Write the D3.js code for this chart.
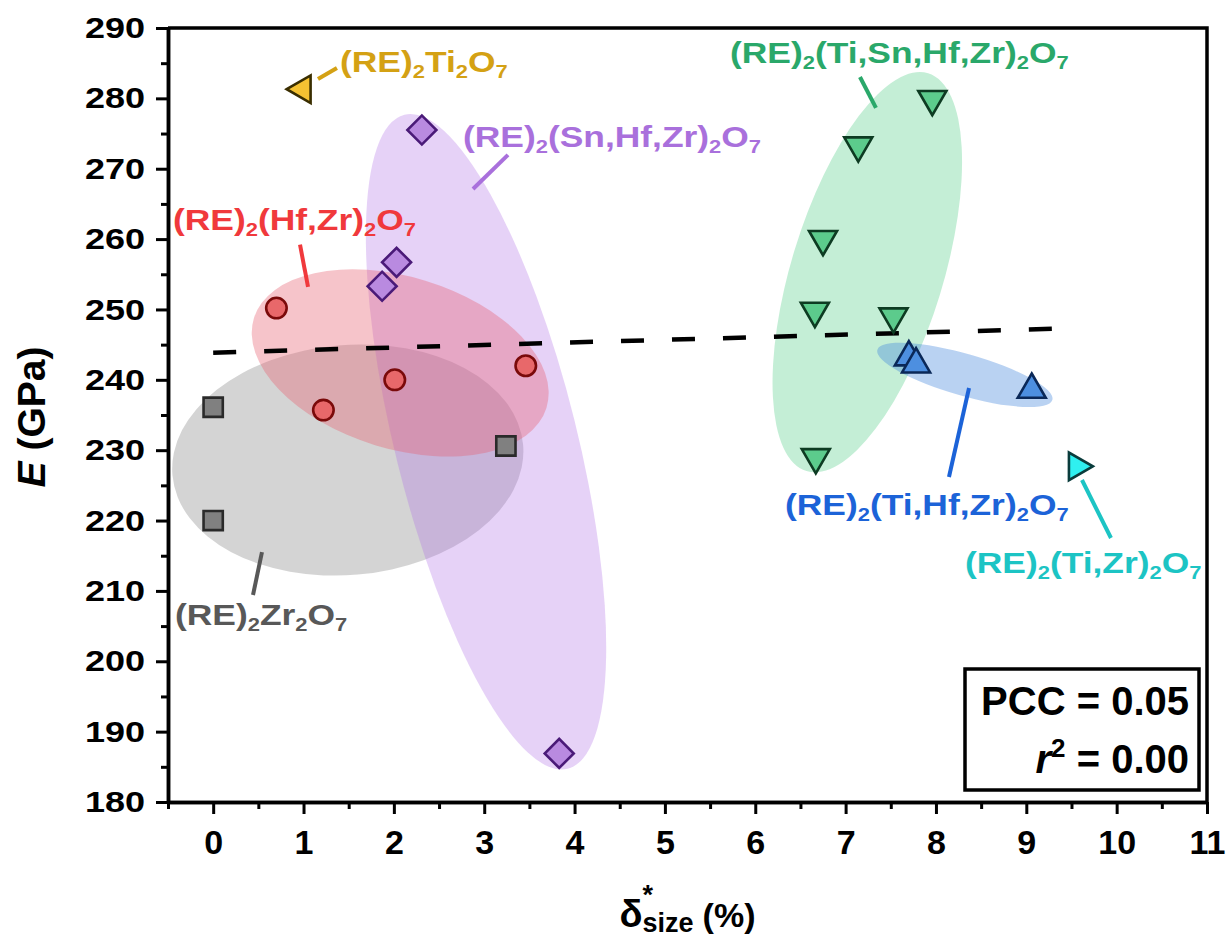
<!DOCTYPE html>
<html>
<head>
<meta charset="utf-8">
<script src="https://cdn.jsdelivr.net/npm/d3@7/dist/d3.min.js"></script>
<style>
  body { margin: 0; background: #fff; }
  text { font-family: "Liberation Sans", Arial, sans-serif; font-weight: bold; }
</style>
</head>
<body>
<div id="container"></div>
<script>
// define constants
const WIDTH = 1231;
const HEIGHT = 940;
const MARGIN = { left: 168, right: 24, top: 28, bottom: 138 };

// data
const zrX = [0, 0, 3.24];
const zrY = [236.1, 220.0, 230.6];
const hfzrX = [0.70, 1.22, 2.01, 3.46];
const hfzrY = [250.2, 235.7, 240.0, 242.0];
const snhfzrX = [1.87, 2.03, 2.31, 3.83];
const snhfzrY = [253.3, 256.7, 275.5, 186.9];
const tiX = [0.99];
const tiY = [281.3];
const tisnhfzrX = [6.66, 6.67, 6.75, 7.14, 7.53, 7.96];
const tisnhfzrY = [249.8, 229.0, 260.0, 273.3, 249.0, 279.9];
const tihfzrX = [7.70, 7.78, 9.06];
const tihfzrY = [243.2, 242.2, 238.6];
const tizrX = [9.56];
const tizrY = [227.7];

// dashed linear fit
const fitX = [0, 9.56];
const fitY = [243.86, 247.35];

const xTicks = d3.range(0, 12, 1);
const xMinor = d3.range(-0.5, 11, 1);
const yTicks = d3.range(180, 291, 10);
const yMinor = d3.range(185, 290, 10);

const pcc = "0.05";
const r2 = "0.00";

// marker groups
const groups = [
    { xs: zrX, ys: zrY, shape: d3.symbolSquare, size: 370, rot: 0, fill: "#808080", stroke: "#2a2a2a" },
    { xs: hfzrX, ys: hfzrY, shape: d3.symbolCircle, size: 330, rot: 0, fill: "#e8686a", stroke: "#7a0a0a" },
    { xs: snhfzrX, ys: snhfzrY, shape: d3.symbolSquare, size: 420, rot: 45, fill: "#b98ae0", stroke: "#4a1a78" },
    { xs: tiX, ys: tiY, shape: d3.symbolTriangle, size: 330, rot: -90, fill: "#f5c232", stroke: "#3a2e00" },
    { xs: tisnhfzrX, ys: tisnhfzrY, shape: d3.symbolTriangle, size: 340, rot: 180, fill: "#5ccb8c", stroke: "#0d3b22" },
    { xs: tihfzrX, ys: tihfzrY, shape: d3.symbolTriangle, size: 340, rot: 0, fill: "#4d8fe0", stroke: "#0a2858" },
    { xs: tizrX, ys: tizrY, shape: d3.symbolTriangle, size: 330, rot: 90, fill: "#2ff0f0", stroke: "#0a3c3c" }
];

// shaded clusters: centre in data units, radii in pixels
const clusters = [
    { cx: 1.49, cy: 228.6, rx: 176, ry: 115, angle: -5, fill: "rgba(153,153,153,0.42)" },
    { cx: 3.02, cy: 231.2, rx: 337, ry: 91, angle: 76, fill: "rgba(175,110,230,0.31)" },
    { cx: 2.07, cy: 242.4, rx: 153, ry: 86, angle: 17, fill: "rgba(230,95,110,0.37)" },
    { cx: 7.24, cy: 255.3, rx: 208, ry: 76, angle: -73, fill: "rgba(60,200,120,0.30)" },
    { cx: 8.32, cy: 240.7, rx: 91, ry: 21, angle: 16, fill: "rgba(60,130,220,0.36)" }
];

// annotation labels, anchored in data units
const labels = [
    { text: "(RE)_2Ti_2O_7", color: "#d4a114", x: 1.404, y: 283.75, line: [[1.16, 282.76], [1.37, 284.32]] },
    { text: "(RE)_2(Sn,Hf,Zr)_2O_7", color: "#a970dc", x: 2.765, y: 273.09, line: [[3.263, 271.96], [2.876, 267.12]] },
    { text: "(RE)_2(Hf,Zr)_2O_7", color: "#f0393c", x: -0.445, y: 261.3, line: [[0.961, 259.2], [1.05, 253.2]] },
    { text: "(RE)_2Zr_2O_7", color: "#585858", x: -0.423, y: 205.16, line: [[0.54, 215.5], [0.441, 209.42]] },
    { text: "(RE)_2(Ti,Sn,Hf,Zr)_2O_7", color: "#2aa86a", x: 5.72, y: 285.03, line: [[7.159, 283.04], [7.336, 278.64]] },
    { text: "(RE)_2(Ti,Hf,Zr)_2O_7", color: "#1c63d8", x: 6.329, y: 220.79, line: [[8.366, 238.84], [8.144, 226.19]] },
    { text: "(RE)_2(Ti,Zr)_2O_7", color: "#1cc4c4", x: 8.321, y: 212.55, line: [[9.616, 225.76], [9.937, 217.52]] }
];

// create svg element
const canvas = d3.select("#container")
    .append("svg")
    .attr("width", WIDTH)
    .attr("height", HEIGHT);

const xScale = d3.scaleLinear()
    .domain([-0.5, 11])
    .range([MARGIN.left, WIDTH - MARGIN.right]);

const yScale = d3.scaleLinear()
    .domain([180, 290])
    .range([HEIGHT - MARGIN.bottom, MARGIN.top]);

// shaded ellipses
canvas.append("g")
    .selectAll("ellipse")
    .data(clusters)
    .enter()
    .append("ellipse")
    .attr("rx", (d) => d.rx)
    .attr("ry", (d) => d.ry)
    .attr("transform", (d) => "translate(" + xScale(d.cx) + "," + yScale(d.cy) + ") rotate(" + d.angle + ")")
    .attr("fill", (d) => d.fill);

// dashed fit line
canvas.append("line")
    .attr("x1", xScale(fitX[0]))
    .attr("y1", yScale(fitY[0]))
    .attr("x2", xScale(fitX[1]))
    .attr("y2", yScale(fitY[1]))
    .attr("stroke", "#000")
    .attr("stroke-width", 4.5)
    .attr("stroke-dasharray", "23,28");

// leader lines
canvas.append("g")
    .selectAll("line")
    .data(labels)
    .enter()
    .append("line")
    .attr("x1", (d) => xScale(d.line[0][0]))
    .attr("y1", (d) => yScale(d.line[0][1]))
    .attr("x2", (d) => xScale(d.line[1][0]))
    .attr("y2", (d) => yScale(d.line[1][1]))
    .attr("stroke", (d) => d.color)
    .attr("stroke-width", 4);

// markers
groups.forEach((g) => {
    const pts = g.xs.map((x, i) => [x, g.ys[i]]);
    canvas.append("g")
        .selectAll("path")
        .data(pts)
        .enter()
        .append("path")
        .attr("d", d3.symbol().type(g.shape).size(g.size))
        .attr("transform", (d) => "translate(" + xScale(d[0]) + "," + yScale(d[1]) + ") rotate(" + g.rot + ")")
        .attr("fill", g.fill)
        .attr("stroke", g.stroke)
        .attr("stroke-width", 2.6)
        .attr("stroke-linejoin", "miter");
});

// chemical formula with subscripts, "_2" marks a subscript digit
const formula = (sel, str, size) => {
    const parts = str.split(/_(\d)/);
    parts.forEach((p, i) => {
        if (p === "") return;
        const isSub = i % 2 === 1;
        sel.append("tspan")
            .attr("font-size", isSub ? size * 0.62 : size)
            .attr("dy", isSub ? 6 : (i > 0 ? -6 : 0))
            .text(p);
    });
};

labels.forEach((d) => {
    const g = canvas.append("g")
        .attr("transform", "translate(" + xScale(d.x) + "," + yScale(d.y) + ") scale(1.18,1)");
    const t = g.append("text").attr("fill", d.color);
    formula(t, d.text, 30);
});

// axes
const bottomAxis = d3.axisBottom(xScale)
    .tickValues(xTicks)
    .tickSize(12)
    .tickSizeOuter(0)
    .tickPadding(16)
    .tickFormat(d3.format("d"));

const xAxis = canvas.append("g")
    .attr("transform", "translate(0," + (HEIGHT - MARGIN.bottom) + ")")
    .call(bottomAxis);
xAxis.selectAll("text").attr("font-size", 34).attr("fill", "#000");

canvas.append("g")
    .attr("transform", "translate(0," + (HEIGHT - MARGIN.bottom) + ")")
    .call(d3.axisBottom(xScale).tickValues(xMinor).tickSize(7).tickSizeOuter(0).tickFormat(""));

const leftAxis = d3.axisLeft(yScale)
    .tickValues(yTicks)
    .tickSize(12)
    .tickSizeOuter(0)
    .tickPadding(11);

const yAxis = canvas.append("g")
    .attr("transform", "translate(" + MARGIN.left + ",0)")
    .call(leftAxis);
yAxis.selectAll("text")
    .attr("font-size", 30)
    .attr("fill", "#000")
    .attr("x", -23 / 1.2)
    .attr("transform", "scale(1.2,1)");

canvas.append("g")
    .attr("transform", "translate(" + MARGIN.left + ",0)")
    .call(d3.axisLeft(yScale).tickValues(yMinor).tickSize(7).tickSizeOuter(0).tickFormat(""));

canvas.selectAll(".domain").attr("stroke-width", 3.5).attr("stroke", "#000");
canvas.selectAll(".tick line").attr("stroke-width", 3).attr("stroke", "#000");

// top and right border
canvas.append("path")
    .attr("d", "M" + MARGIN.left + "," + MARGIN.top + "H" + (WIDTH - MARGIN.right) + "V" + (HEIGHT - MARGIN.bottom))
    .attr("fill", "none")
    .attr("stroke", "#000")
    .attr("stroke-width", 3.5);

// label y axis
const yTitle = canvas.append("text")
    .attr("transform", "translate(45," + ((MARGIN.top + HEIGHT - MARGIN.bottom) / 2 + 2) + ") rotate(-90)")
    .attr("text-anchor", "middle")
    .attr("font-size", 39);
yTitle.append("tspan").attr("font-style", "italic").text("E");
yTitle.append("tspan").text(" (GPa)");

// label x axis
const xTitle = canvas.append("g");
const xMid = (MARGIN.left + WIDTH - MARGIN.right) / 2;
const delta = xTitle.append("text").attr("font-size", 38).attr("font-weight", "normal").text("δ");
const star = xTitle.append("text").attr("font-size", 27).text("*");
const sub = xTitle.append("text").attr("font-size", 27).text("size");
const pct = xTitle.append("text").attr("font-size", 34).text("(%)");
const wD = delta.node().getComputedTextLength();
const wS = sub.node().getComputedTextLength();
const wP = pct.node().getComputedTextLength();
const total = wD + wS + 9 + wP;
const x0 = xMid - total / 2;
delta.attr("x", x0).attr("y", 927);
star.attr("x", x0 + wD).attr("y", 904);
sub.attr("x", x0 + wD).attr("y", 932);
pct.attr("x", x0 + wD + wS + 9).attr("y", 927);

// statistics box
const boxRight = WIDTH - MARGIN.right - 8;
const boxBottom = HEIGHT - MARGIN.bottom - 12;
canvas.append("rect")
    .attr("x", boxRight - 234)
    .attr("y", boxBottom - 121)
    .attr("width", 234)
    .attr("height", 121)
    .attr("fill", "#fff")
    .attr("stroke", "#000")
    .attr("stroke-width", 3.5);

canvas.append("text")
    .attr("x", boxRight - 10)
    .attr("y", boxBottom - 75)
    .attr("text-anchor", "end")
    .attr("font-size", 40)
    .text("PCC = " + pcc);

const r2Text = canvas.append("text")
    .attr("x", boxRight - 10)
    .attr("y", boxBottom - 17)
    .attr("text-anchor", "end")
    .attr("font-size", 40);
r2Text.append("tspan").attr("font-style", "italic").text("r");
r2Text.append("tspan").attr("font-size", 26).attr("dy", -16).text("2");
r2Text.append("tspan").attr("dy", 16).text(" = " + r2);
</script>
</body>
</html>
